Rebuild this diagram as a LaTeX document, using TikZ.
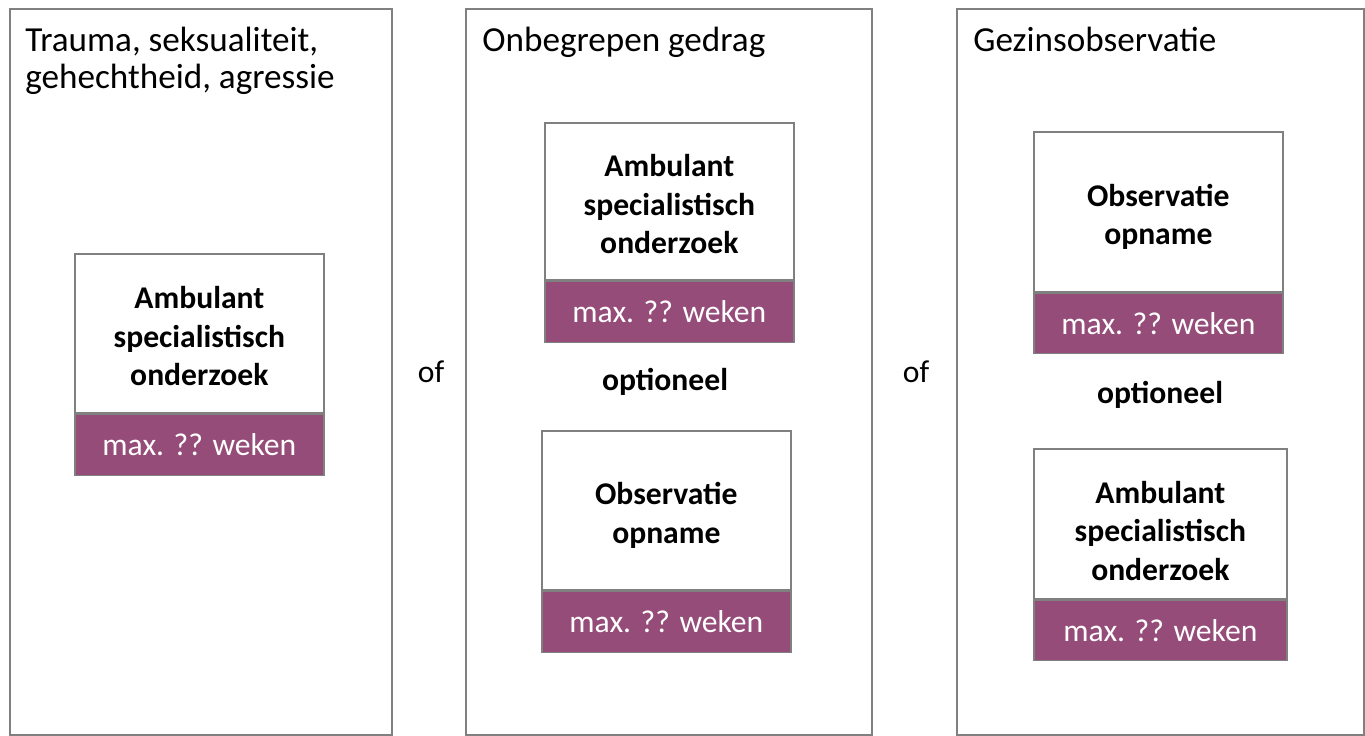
\documentclass[tikz,border=0pt]{standalone}
\usepackage{fontspec}
\setmainfont{Carlito}
\usetikzlibrary{positioning}

\definecolor{plum}{RGB}{149,76,121}
\definecolor{rim}{RGB}{128,128,128}

% invisible strut that pushes the first line of a box down
\newcommand\padtop[1]{\rule{0pt}{#1}}

\tikzset{
	column/.style={draw=rim, line width=1pt, minimum width=7.64cm, minimum height=14.52cm, anchor=north west, inner sep=0pt},
	heading/.style={anchor=north west, align=left, inner sep=0pt, font=\fontsize{20}{21}\selectfont},
	taskbox/.style={draw=rim, line width=1pt, fill=white, minimum width=4.98cm, minimum height=3.18cm, anchor=north west, align=center, font=\bfseries\fontsize{18}{22}\selectfont},
	durbox/.style={draw=rim, line width=1pt, fill=plum, text=white, minimum width=4.98cm, minimum height=1.22cm, font=\fontsize{18}{22}\selectfont},
	word/.style={font=\fontsize{18}{22}\selectfont},
	keyword/.style={font=\bfseries\fontsize{18}{22}\selectfont}
}

\begin{document}
\begin{tikzpicture}[x=0.02cm,y=-0.02cm]
	\useasboundingbox (0,0) rectangle (1365,736);

	% columns
	\node[column] (c1) at (9,8) {};
	\node[column, minimum width=8.12cm] (c2) at (465,8) {};
	\node[column, minimum width=8.14cm] (c3) at (956,8) {};

	\node[heading] (h1) at (25,27) {Trauma, seksualiteit,\\gehechtheid, agressie};
	\node[heading] (h2) at (482,27) {Onbegrepen gedrag};
	\node[heading] (h3) at (973,27) {Gezinsobservatie};

	% first column
	\node[taskbox] (a1) at (74,253) {\padtop{16pt}Ambulant\\specialistisch\\onderzoek};
	\node[durbox] (d1) [below=0pt of a1] {max. ?? weken};

	\node[word] (of1) at (431,372) {of};

	% second column
	\node[taskbox, minimum height=3.14cm] (a2) at (544,122) {\padtop{16pt}Ambulant\\specialistisch\\onderzoek};
	\node[durbox] (d2) [below=0pt of a2] {max. ?? weken};
	\node[keyword] (opt2) at (665,382) {optioneel};
	\node[taskbox] (o2) at (541,430) {\padtop{18.2pt}Observatie\\opname};
	\node[durbox] (e2) [below=0pt of o2] {max. ?? weken};

	\node[word] (of2) at (916,372) {of};

	% third column
	\node[taskbox, minimum height=3.2cm] (o3) at (1033,131) {\padtop{18.2pt}Observatie\\opname};
	\node[durbox, minimum height=1.2cm] (e3) [below=0pt of o3] {max. ?? weken};
	\node[keyword] (opt3) at (1160,395) {optioneel};
	\node[taskbox, minimum width=5.06cm, minimum height=3cm] (a3) at (1033,448) {\padtop{20.5pt}Ambulant\\specialistisch\\onderzoek};
	\node[durbox, minimum width=5.06cm, minimum height=1.2cm] (d3) [below=0pt of a3] {max. ?? weken};
\end{tikzpicture}
\end{document}
